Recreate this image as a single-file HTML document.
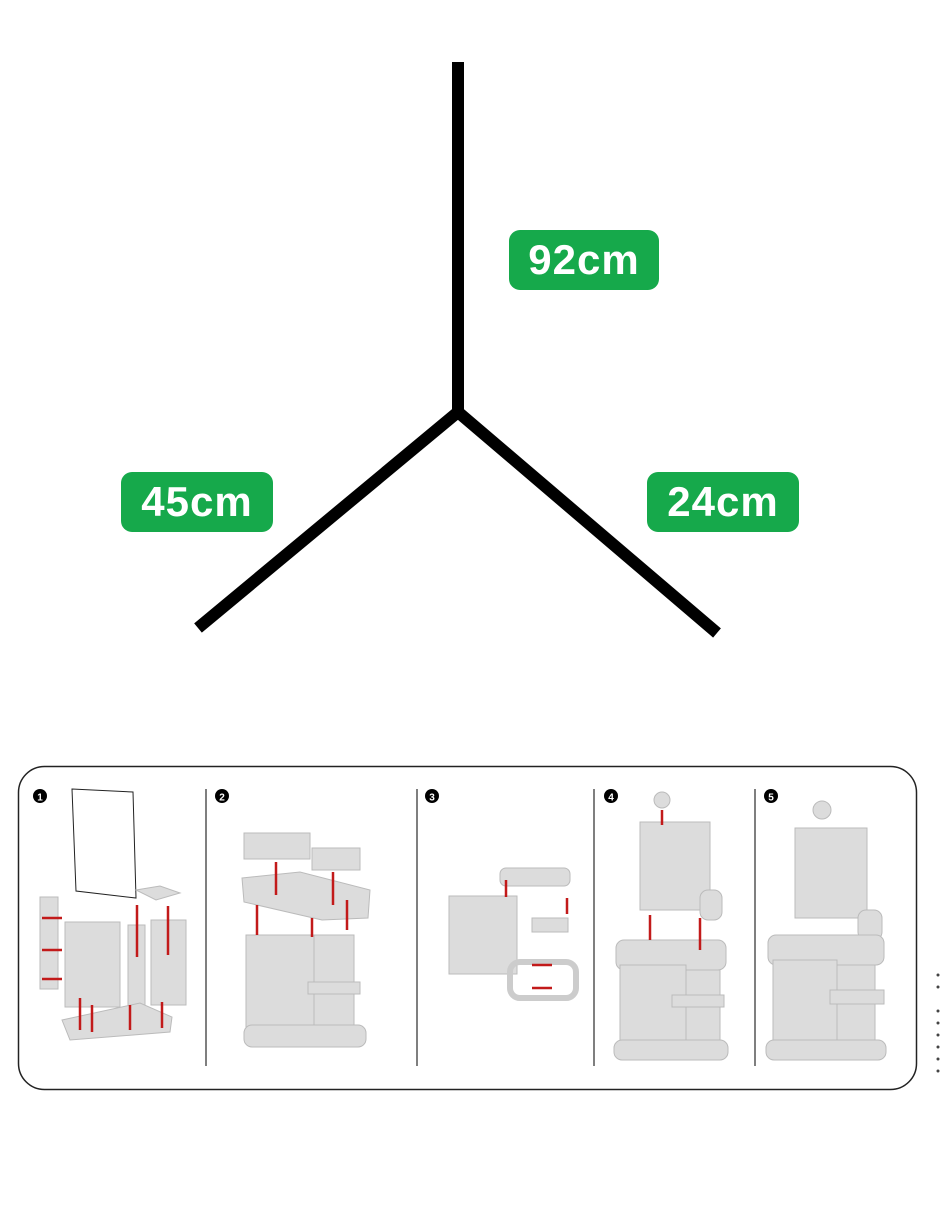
<!DOCTYPE html>
<html><head><style>
html,body{margin:0;padding:0;background:#fff;}
body{width:940px;height:1215px;position:relative;overflow:hidden;font-family:"Liberation Sans",sans-serif;}
.tag{position:absolute;background:#16a94b;color:#fff;font-weight:bold;font-size:42px;border-radius:11px;text-align:center;line-height:60px;height:60px;letter-spacing:1px;}
</style></head><body>
<svg width="940" height="1215" style="position:absolute;left:0;top:0">
<g stroke="#000" stroke-width="12" fill="none" stroke-linejoin="miter">
<line x1="458" y1="62" x2="458" y2="410"/>
<polyline points="198,628 458,412 717,633"/>
</g>
<rect x="18.5" y="766.5" width="898" height="323" rx="26" fill="none" stroke="#222" stroke-width="1.5"/>
<g stroke="#555" stroke-width="1.5">
<line x1="206" y1="789" x2="206" y2="1066"/>
<line x1="417" y1="789" x2="417" y2="1066"/>
<line x1="594" y1="789" x2="594" y2="1066"/>
<line x1="755" y1="789" x2="755" y2="1066"/>
</g>
<g font-size="13" font-weight="bold" text-anchor="middle">
<circle cx="40" cy="796" r="7" fill="#000"/><text x="40" y="800.5" fill="#fff" font-size="10">1</text>
<circle cx="222" cy="796" r="7" fill="#000"/><text x="222" y="800.5" fill="#fff" font-size="10">2</text>
<circle cx="432" cy="796" r="7" fill="#000"/><text x="432" y="800.5" fill="#fff" font-size="10">3</text>
<circle cx="611" cy="796" r="7" fill="#000"/><text x="611" y="800.5" fill="#fff" font-size="10">4</text>
<circle cx="771" cy="796" r="7" fill="#000"/><text x="771" y="800.5" fill="#fff" font-size="10">5</text>
</g>
<g fill="#dcdcdc" stroke="#bbb" stroke-width="1">
<!-- step1 -->
<polygon points="72,789 133,792 136,898 76,891" fill="#fff" stroke="#222"/>
<rect x="40" y="897" width="18" height="92"/>
<rect x="65" y="922" width="55" height="85"/>
<rect x="128" y="925" width="17" height="82"/>
<rect x="151" y="920" width="35" height="85"/>
<polygon points="136,890 160,886 180,893 156,900"/>
<polygon points="62,1020 140,1003 172,1017 170,1032 70,1040"/>
<!-- step2 -->
<rect x="244" y="833" width="66" height="26"/>
<rect x="312" y="848" width="48" height="22"/>
<polygon points="242,878 300,872 370,890 368,918 322,920 244,902"/>
<rect x="246" y="935" width="68" height="95"/>
<rect x="314" y="935" width="40" height="90"/>
<rect x="308" y="982" width="52" height="12"/>
<rect x="244" y="1025" width="122" height="22" rx="8"/>
<!-- step3 -->
<rect x="449" y="896" width="68" height="78"/>
<rect x="500" y="868" width="70" height="18" rx="6"/>
<rect x="532" y="918" width="36" height="14"/>
<rect x="510" y="962" width="66" height="36" rx="10" fill="none" stroke="#ccc" stroke-width="6"/>
<!-- step4 -->
<circle cx="662" cy="800" r="8"/>
<rect x="640" y="822" width="70" height="88"/>
<rect x="700" y="890" width="22" height="30" rx="8"/>
<rect x="616" y="940" width="110" height="30" rx="8"/>
<rect x="620" y="965" width="66" height="80"/>
<rect x="686" y="970" width="34" height="75"/>
<rect x="672" y="995" width="52" height="12"/>
<rect x="614" y="1040" width="114" height="20" rx="8"/>
<!-- step5 -->
<circle cx="822" cy="810" r="9"/>
<rect x="795" y="828" width="72" height="90"/>
<rect x="858" y="910" width="24" height="30" rx="8"/>
<rect x="768" y="935" width="116" height="30" rx="8"/>
<rect x="773" y="960" width="64" height="85"/>
<rect x="837" y="965" width="38" height="80"/>
<rect x="830" y="990" width="54" height="14"/>
<rect x="766" y="1040" width="120" height="20" rx="8"/>
</g>
<g stroke="#c21a1a" stroke-width="2.5">
<line x1="42" y1="918" x2="62" y2="918"/><line x1="42" y1="950" x2="62" y2="950"/><line x1="42" y1="979" x2="62" y2="979"/>
<line x1="137" y1="905" x2="137" y2="957"/><line x1="168" y1="906" x2="168" y2="955"/>
<line x1="80" y1="998" x2="80" y2="1030"/><line x1="92" y1="1005" x2="92" y2="1032"/><line x1="130" y1="1005" x2="130" y2="1030"/><line x1="162" y1="1002" x2="162" y2="1028"/>
<line x1="276" y1="862" x2="276" y2="895"/><line x1="333" y1="872" x2="333" y2="905"/>
<line x1="257" y1="905" x2="257" y2="935"/><line x1="312" y1="918" x2="312" y2="937"/><line x1="347" y1="900" x2="347" y2="930"/>
<line x1="506" y1="880" x2="506" y2="897"/><line x1="567" y1="898" x2="567" y2="914"/>
<line x1="532" y1="965" x2="552" y2="965"/><line x1="532" y1="988" x2="552" y2="988"/>
<line x1="662" y1="810" x2="662" y2="825"/><line x1="650" y1="915" x2="650" y2="940"/><line x1="700" y1="918" x2="700" y2="950"/>
</g>
<g fill="#444">
<circle cx="938" cy="975" r="1.5"/><circle cx="938" cy="987" r="1.5"/><circle cx="938" cy="1011" r="1.5"/><circle cx="938" cy="1023" r="1.5"/><circle cx="938" cy="1035" r="1.5"/><circle cx="938" cy="1047" r="1.5"/><circle cx="938" cy="1059" r="1.5"/><circle cx="938" cy="1071" r="1.5"/>
</g>
</svg>
<div class="tag" style="left:509px;top:230px;width:150px;">92cm</div>
<div class="tag" style="left:121px;top:472px;width:152px;">45cm</div>
<div class="tag" style="left:647px;top:472px;width:152px;">24cm</div>
</body></html>
